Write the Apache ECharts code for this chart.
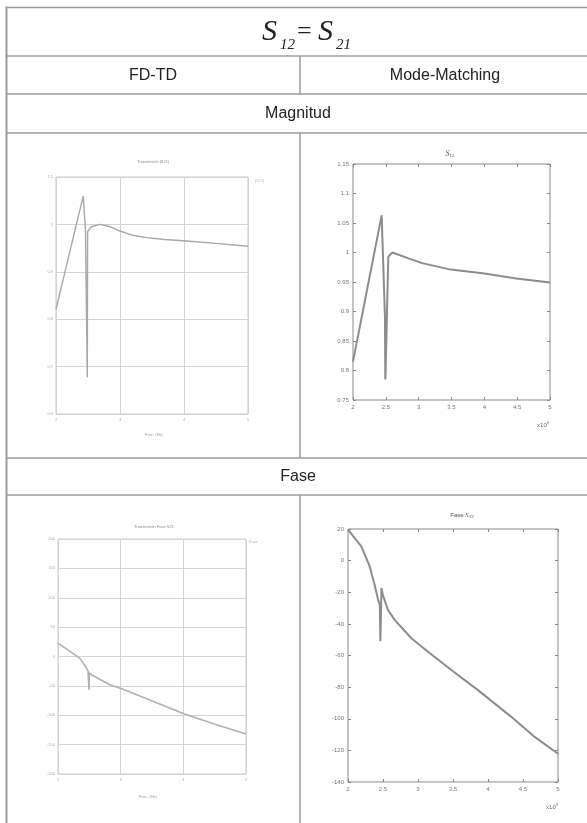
<!DOCTYPE html>
<html>
<head>
<meta charset="utf-8">
<script src="https://cdn.jsdelivr.net/npm/echarts@6/dist/echarts.min.js"></script>
<style>
html,body{margin:0;padding:0;background:#fff;}
#c{width:587px;height:823px;}
</style>
</head>
<body>
<div id="c"></div>
<script>
// ---- Data ----
// Magnitude |S12| vs frequency (x1e9 Hz)
const fdtdMagFreq = [2.0, 2.426, 2.46, 2.489, 2.494, 2.55, 2.69, 2.85, 3.0, 3.2, 3.414, 3.7, 4.04, 4.5, 5.0];
const fdtdMagVal  = [0.821, 1.06, 0.99, 0.677, 0.985, 0.995, 1.0, 0.995, 0.986, 0.977, 0.972, 0.968, 0.965, 0.96, 0.954];
const mmMagFreq = [2.0, 2.436, 2.487, 2.492, 2.497, 2.538, 2.6, 2.846, 3.051, 3.487, 3.974, 4.487, 5.0];
const mmMagVal  = [0.815, 1.063, 0.89, 0.785, 0.80, 0.993, 1.0, 0.99, 0.982, 0.971, 0.965, 0.956, 0.949];
// Phase (degrees) vs frequency
const fdtdPhFreq = [2.0, 2.346, 2.44, 2.48, 2.495, 2.5, 2.533, 2.826, 2.996, 3.465, 3.998, 4.531, 5.0];
const fdtdPhVal  = [22.7, -2.8, -17, -25, -57, -28, -31, -48, -54, -74, -97, -116, -132];
const mmPhFreq = [2.0, 2.19, 2.31, 2.38, 2.43, 2.455, 2.462, 2.468, 2.478, 2.5, 2.571, 2.667, 2.905, 3.143, 3.476, 3.857, 4.333, 4.667, 5.0];
const mmPhVal  = [19.6, 9.0, -3.7, -15.3, -24.8, -28, -51, -40, -17.4, -22, -31.2, -37.5, -49.1, -57.6, -69.2, -81.9, -98.8, -111.5, -122.1];
// Texts
const headerCols = ['FD-TD', 'Mode-Matching'];
const sectionRows = ['Magnitud', 'Fase'];
const fdtdTitles = ['Transmisión |S21|', 'Transmisión Fase S21'];

function pairs(xs, ys){ return xs.map((x,i)=>[x, ys[i]]); }

const chart = echarts.init(document.getElementById('c'), null, {renderer:'canvas'});

const LINE = '#9c9c9c';
const graphics = [];
function hline(y, x1, x2, w){ graphics.push({type:'line', shape:{x1:x1, y1:y, x2:x2, y2:y}, style:{stroke:LINE, lineWidth:w||1.5}}); }
function vline(x, y1, y2, w){ graphics.push({type:'line', shape:{x1:x, y1:y1, x2:x, y2:y2}, style:{stroke:LINE, lineWidth:w||1.5}}); }
function txt(x, y, t, font, color, align){ graphics.push({type:'text', x:x, y:y, style:{text:t, font:font, fill:color||'#222', align:align||'center', verticalAlign:'middle'}}); }

const L = 6.5, R = 600;
hline(7.5, L, R); hline(56, L, R); hline(94, L, R); hline(133, L, R); hline(458, L, R); hline(495, L, R);
vline(L, 6.5, 823, 2);
vline(300, 56, 94); vline(300, 133, 458); vline(300, 495, 823);

// Title S12 = S21
const serif = '"Liberation Serif","DejaVu Serif",serif';
txt(262, 32, 'S', 'italic 30px ' + serif, '#222', 'left');
txt(280, 45, '12', 'italic 15px ' + serif, '#222', 'left');
txt(297, 32, '=', '26px ' + serif, '#222', 'left');
txt(318, 32, 'S', 'italic 30px ' + serif, '#222', 'left');
txt(336, 45, '21', 'italic 15px ' + serif, '#222', 'left');

const sans = '"Liberation Sans","Noto Sans",Arial,sans-serif';
txt(153, 76, headerCols[0], '16px ' + sans);
txt(445, 76, headerCols[1], '16px ' + sans);
txt(298, 114, sectionRows[0], '16px ' + sans);
txt(298, 477, sectionRows[1], '16px ' + sans);

// small plot annotations
txt(153, 162, fdtdTitles[0], '4px ' + sans, '#888');
txt(154, 527, fdtdTitles[1], '4px ' + sans, '#888');
txt(154, 435, 'Frec. (Hz)', '4px ' + sans, '#999');
txt(148, 797, 'Frec. (Hz)', '4px ' + sans, '#999');
txt(255, 181, '|S21|', '4px ' + sans, '#bbb', 'left');
txt(249, 542, 'Fase', '4px ' + sans, '#bbb', 'left');
// Mode-Matching titles
graphics.push({type:'text', x:450, y:154, style:{text:'{s|S}{b|12}', rich:{s:{font:'italic 8px '+serif, fill:'#555'}, b:{font:'5px '+serif, fill:'#555', padding:[4,0,0,0]}}, align:'center', verticalAlign:'middle'}});
graphics.push({type:'text', x:462, y:515, style:{text:'{t|Fase }{s|S}{b|12}', rich:{t:{font:'6px '+sans, fill:'#555'}, s:{font:'italic 7px '+serif, fill:'#555'}, b:{font:'5px '+serif, fill:'#555', padding:[4,0,0,0]}}, align:'center', verticalAlign:'middle'}});
graphics.push({type:'text', x:543, y:425, style:{text:'{t|x10}{p|9}', rich:{t:{font:'6px '+sans, fill:'#666'}, p:{font:'4px '+sans, fill:'#666', padding:[0,0,5,0]}}, align:'center', verticalAlign:'middle'}});
graphics.push({type:'text', x:552, y:807, style:{text:'{t|x10}{p|9}', rich:{t:{font:'6px '+sans, fill:'#666'}, p:{font:'4px '+sans, fill:'#666', padding:[0,0,5,0]}}, align:'center', verticalAlign:'middle'}});

const grids = [
  {left:56, top:177, width:192, height:237, show:true, borderColor:'#c8c8c8', borderWidth:1},
  {left:353, top:164, width:197, height:236, show:true, borderColor:'#8a8a8a', borderWidth:1},
  {left:58, top:539, width:188, height:235, show:true, borderColor:'#c8c8c8', borderWidth:1},
  {left:348, top:529, width:210, height:253, show:true, borderColor:'#8a8a8a', borderWidth:1}
];

function fdX(gi){ return {gridIndex:gi, type:'value', min:2, max:5, interval:1, position:'bottom',
  axisLine:{show:false, onZero:false}, axisTick:{show:false},
  splitLine:{show:true, lineStyle:{color:'#d4d4d4', width:1}},
  axisLabel:{fontSize:4, color:'#aaa', margin:4}}; }
function fdY(gi, min, max, iv){ return {gridIndex:gi, type:'value', min:min, max:max, interval:iv, position:'left',
  axisLine:{show:false, onZero:false}, axisTick:{show:false},
  splitLine:{show:true, lineStyle:{color:'#d4d4d4', width:1}},
  axisLabel:{fontSize:4, color:'#aaa', margin:3}}; }
function mmX(gi, pos, lab){ return {gridIndex:gi, type:'value', min:2, max:5, interval:0.5, position:pos,
  axisLine:{show:false, onZero:false}, axisTick:{show:true, inside:true, length:3, lineStyle:{color:'#8a8a8a'}},
  splitLine:{show:false},
  axisLabel:{show:lab, fontSize:6, color:'#777', margin:4}}; }
function mmY(gi, pos, lab, min, max, iv){ return {gridIndex:gi, type:'value', min:min, max:max, interval:iv, position:pos,
  axisLine:{show:false, onZero:false}, axisTick:{show:true, inside:true, length:3, lineStyle:{color:'#8a8a8a'}},
  splitLine:{show:false},
  axisLabel:{show:lab, fontSize:6, color:'#777', margin:4}}; }

const xAxis = [fdX(0), mmX(1,'bottom',true), mmX(1,'top',false), fdX(2), mmX(3,'bottom',true), mmX(3,'top',false)];
const yAxis = [fdY(0,0.6,1.1,0.1), mmY(1,'left',true,0.75,1.15,0.05), mmY(1,'right',false,0.75,1.15,0.05),
               fdY(2,-200,200,50), mmY(3,'left',true,-140,20,20), mmY(3,'right',false,-140,20,20)];

function ser(xi, yi, data, color, w){ return {type:'line', xAxisIndex:xi, yAxisIndex:yi, data:data, showSymbol:false, symbol:'none',
  lineStyle:{color:color, width:w}, animation:false, silent:true}; }

chart.setOption({
  animation:false,
  backgroundColor:'#fff',
  grid:grids,
  xAxis:xAxis,
  yAxis:yAxis,
  series:[
    ser(0,0,pairs(fdtdMagFreq, fdtdMagVal), '#a8a8a8', 1.4),
    ser(1,1,pairs(mmMagFreq, mmMagVal), '#8c8c8c', 2),
    ser(3,3,pairs(fdtdPhFreq, fdtdPhVal), '#b0b0b0', 1.6),
    ser(4,4,pairs(mmPhFreq, mmPhVal), '#8c8c8c', 2)
  ],
  graphic:{elements:graphics}
});
</script>
</body>
</html>
